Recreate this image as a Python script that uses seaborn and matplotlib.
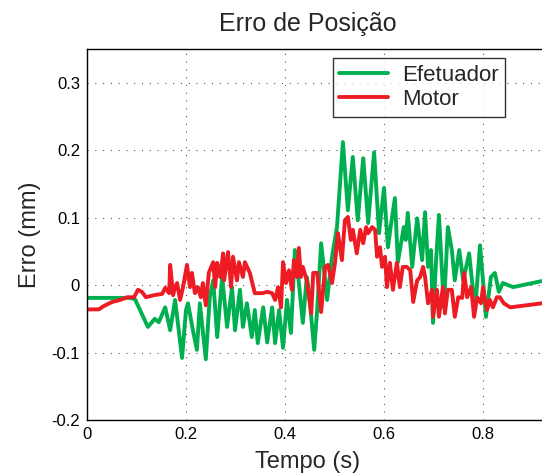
import matplotlib
matplotlib.use("Agg")
import matplotlib.pyplot as plt
import seaborn as sns
import pandas as pd

# Efetuador (end effector) position error, mm
efetuador_t = [0.000, 0.087, 0.097, 0.123, 0.137, 0.145, 0.158, 0.168, 0.178, 0.192,
               0.200, 0.204, 0.214, 0.222, 0.228, 0.240, 0.248, 0.255, 0.263, 0.273,
               0.283, 0.293, 0.299, 0.309, 0.315, 0.323, 0.333, 0.339, 0.345, 0.356,
               0.364, 0.374, 0.380, 0.388, 0.396, 0.404, 0.412, 0.420, 0.426, 0.436,
               0.444, 0.448, 0.459, 0.465, 0.473, 0.479, 0.485, 0.495, 0.505, 0.517,
               0.527, 0.537, 0.547, 0.558, 0.568, 0.580, 0.590, 0.600, 0.608, 0.614,
               0.622, 0.628, 0.640, 0.644, 0.648, 0.657, 0.667, 0.677, 0.683, 0.689,
               0.695, 0.699, 0.705, 0.711, 0.721, 0.729, 0.737, 0.743, 0.752, 0.760,
               0.772, 0.784, 0.794, 0.806, 0.816, 0.824, 0.832, 0.840, 0.861, 0.919]
efetuador_v = [-0.019, -0.019, -0.021, -0.062, -0.050, -0.055, -0.033, -0.067, -0.022, -0.108,
               -0.037, -0.027, -0.067, -0.096, -0.027, -0.110, -0.018, 0.007, -0.077, 0.012,
               -0.062, -0.003, -0.067, -0.007, -0.062, -0.027, -0.077, -0.037, -0.086, -0.033,
               -0.085, -0.033, -0.086, -0.037, -0.093, -0.022, -0.071, 0.052, 0.018, -0.056,
               0.012, -0.007, -0.096, -0.037, 0.062, 0.022, -0.022, 0.042, 0.086, 0.212,
               0.111, 0.190, 0.096, 0.188, 0.092, 0.197, 0.077, 0.144, 0.056, 0.089,
               0.129, 0.034, 0.086, 0.067, 0.107, 0.027, 0.099, 0.037, 0.108, 0.027,
               0.052, -0.056, 0.034, 0.104, -0.033, 0.086, 0.052, 0.007, 0.052, 0.007,
               0.047, -0.037, 0.059, -0.047, 0.012, 0.018, -0.010, 0.003, -0.003, 0.006]

# Motor position error, mm
motor_t = [0.000, 0.024, 0.034, 0.051, 0.067, 0.081, 0.095, 0.103, 0.111, 0.119,
           0.135, 0.152, 0.158, 0.166, 0.168, 0.174, 0.178, 0.182, 0.188, 0.194,
           0.202, 0.208, 0.212, 0.218, 0.224, 0.230, 0.234, 0.240, 0.246, 0.255,
           0.259, 0.263, 0.269, 0.275, 0.277, 0.285, 0.291, 0.295, 0.303, 0.307,
           0.315, 0.319, 0.329, 0.339, 0.354, 0.364, 0.374, 0.380, 0.386, 0.392,
           0.396, 0.402, 0.408, 0.414, 0.418, 0.424, 0.428, 0.432, 0.436, 0.444,
           0.453, 0.457, 0.465, 0.473, 0.481, 0.487, 0.495, 0.501, 0.507, 0.515,
           0.521, 0.527, 0.533, 0.537, 0.545, 0.552, 0.558, 0.564, 0.568, 0.576,
           0.582, 0.586, 0.592, 0.596, 0.602, 0.606, 0.612, 0.618, 0.626, 0.632,
           0.638, 0.646, 0.653, 0.659, 0.667, 0.673, 0.679, 0.683, 0.689, 0.697,
           0.699, 0.707, 0.711, 0.719, 0.723, 0.729, 0.737, 0.743, 0.750, 0.758,
           0.762, 0.768, 0.776, 0.782, 0.788, 0.796, 0.800, 0.808, 0.814, 0.820,
           0.828, 0.834, 0.842, 0.855, 0.919]
motor_v = [-0.036, -0.036, -0.031, -0.025, -0.022, -0.018, -0.018, -0.007, -0.010, -0.018,
           -0.015, -0.013, -0.004, -0.012, 0.030, -0.015, -0.003, 0.003, -0.022, -0.003,
           0.030, -0.003, 0.018, -0.012, -0.003, -0.018, 0.003, -0.030, 0.018, 0.034,
           -0.003, 0.033, 0.012, 0.047, 0.007, 0.049, -0.003, 0.042, 0.007, 0.034,
           0.012, 0.034, 0.018, -0.012, -0.012, -0.010, -0.012, -0.022, -0.003, -0.033,
           0.034, 0.003, 0.022, -0.007, 0.037, 0.012, 0.055, 0.012, 0.027, 0.007,
           -0.042, 0.018, 0.018, -0.040, 0.027, 0.030, 0.003, 0.033, 0.077, 0.037,
           0.096, 0.101, 0.067, 0.082, 0.047, 0.082, 0.062, 0.086, 0.077, 0.086,
           0.082, 0.042, 0.056, 0.027, 0.042, -0.003, 0.033, -0.007, 0.033, -0.003,
           0.027, 0.027, 0.022, -0.025, 0.007, 0.012, 0.027, 0.012, -0.027, -0.007,
           -0.047, -0.007, -0.047, -0.003, -0.042, -0.007, -0.007, -0.047, -0.018, -0.019,
           0.018, -0.018, -0.003, -0.047, -0.018, -0.027, -0.003, -0.037, -0.022, -0.033,
           -0.018, -0.018, -0.027, -0.033, -0.027]

series_names = ["Efetuador", "Motor"]
series_colors = ["#00b050", "#ed1c24"]
x_ticks = [0, 0.2, 0.4, 0.6, 0.8]
x_tick_labels = ["0", "0.2", "0.4", "0.6", "0.8"]
y_ticks = [-0.2, -0.1, 0, 0.1, 0.2, 0.3]
y_tick_labels = ["-0.2", "-0.1", "0", "0.1", "0.2", "0.3"]

df = pd.concat([
    pd.DataFrame({"t": efetuador_t, "erro": efetuador_v, "serie": series_names[0]}),
    pd.DataFrame({"t": motor_t, "erro": motor_v, "serie": series_names[1]}),
], ignore_index=True)

sns.set_theme(style="white")
plt.rcParams["font.family"] = ["Liberation Sans", "DejaVu Sans"]

W, H = 542, 474
fig = plt.figure(figsize=(W / 100, H / 100), dpi=100)
ax = fig.add_axes([87 / W, 54 / H, 495 / W, 371 / H])

sns.lineplot(data=df, x="t", y="erro", hue="serie", hue_order=series_names,
             palette=series_colors, sort=False, estimator=None,
             linewidth=2.8, ax=ax, legend=False)

ax.set_xlim(0, 1.0)
ax.set_ylim(-0.2, 0.35)
ax.set_xticks(x_ticks)
ax.set_xticklabels(x_tick_labels)
ax.set_yticks(y_ticks)
ax.set_yticklabels(y_tick_labels)
ax.tick_params(axis="both", direction="in", length=4, width=0.8, colors="black",
               labelsize=12, pad=5)
ax.grid(True, linestyle=(0, (1, 6)), color="#555555", linewidth=0.8)
for side in ["left", "bottom", "top", "right"]:
    ax.spines[side].set_color("black")
    ax.spines[side].set_linewidth(1.0)

ax.set_xlabel("Tempo (s)", fontsize=17)
ax.xaxis.set_label_coords((308 - 87) / 495, -42 / 371)
ax.xaxis.label.set_va("center")
ax.set_ylabel("Erro (mm)", fontsize=17)
ax.yaxis.set_label_coords((30 - 87) / 495, 0.5)
ax.yaxis.label.set_va("center")
fig.text(308 / W, 1 - 24 / H, "Erro de Posição", fontsize=18, ha="center", va="center")

handles = [plt.Line2D([], [], color=c, linewidth=2.8) for c in series_colors]
leg = fig.legend(handles, series_names, loc="upper right",
                 bbox_to_anchor=(505 / W, 1 - 58 / H), bbox_transform=fig.transFigure,
                 fontsize=16, frameon=True, fancybox=False, handlelength=2.2,
                 borderpad=0.3, labelspacing=0.15, handletextpad=0.6, borderaxespad=0)
leg.get_frame().set_edgecolor("black")
leg.get_frame().set_linewidth(1.0)

fig.savefig("out.png", dpi=100)
